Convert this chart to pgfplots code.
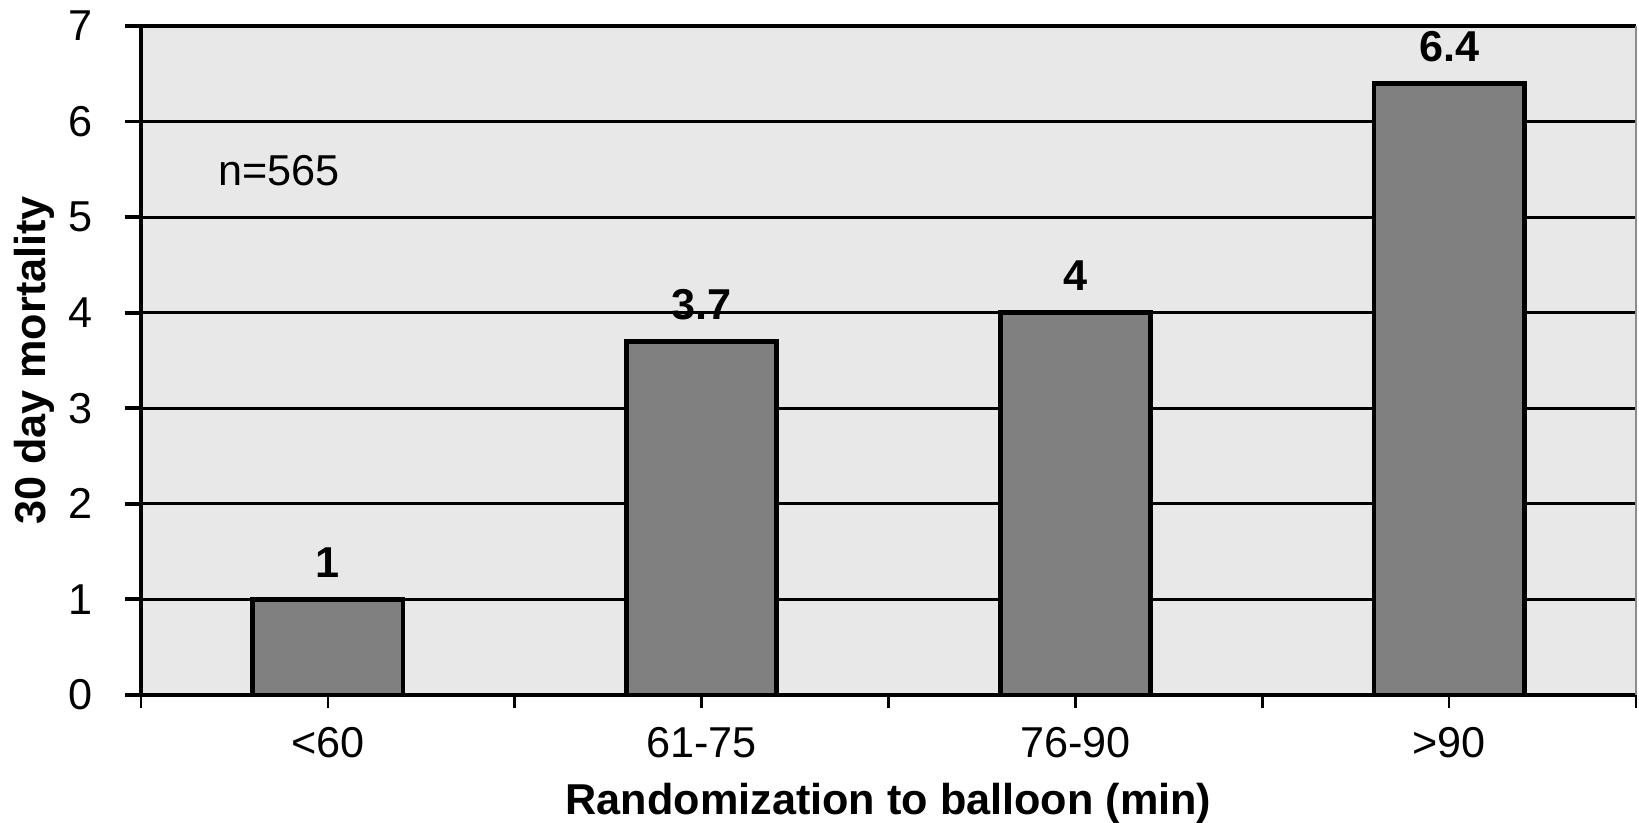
\documentclass[border=0pt]{standalone}
\usepackage{fontspec}
\setmainfont{Liberation Sans}
\usepackage{pgfplots}
\pgfplotsset{compat=1.18}
\definecolor{plotbg}{RGB}{232,232,232}
\definecolor{barfill}{RGB}{128,128,128}
\definecolor{bordergray}{RGB}{140,140,140}
\newcommand{\chartfont}{\fontsize{13.5}{16}\selectfont}
\begin{document}
\chartfont
\begin{tikzpicture}
\begin{axis}[
  at={(44.06pt,39.71pt)}, anchor=south west,
  width=467.19pt, height=209.06pt, scale only axis,
  xmin=-0.5, xmax=3.5, ymin=0, ymax=7,
  ybar, bar width=46.9pt,
  axis lines=left,
  axis line style={-, line width=1.2pt, black},
  axis background/.style={fill=plotbg},
  /pgf/number format/assume math mode=true,
  tick align=outside,
  xtick={-0.5,0.5,1.5,2.5,3.5},
  xticklabels={},
  x tick style={line width=0.8pt, black},
  xtick style={/pgfplots/major tick length=4pt},
  ytick={0,1,2,3,4,5,6},
  y tick style={line width=1.2pt, black, /pgfplots/major tick length=5pt},
  ymajorgrids,
  major grid style={black, line width=1pt},
  extra y ticks={7},
  extra y tick style={grid style={bordergray, line width=0.9pt}},
  extra x ticks={0,1,2,3},
  extra x tick labels={<60,61-75,76-90,>90},
  extra x tick style={major tick length=0pt, grid=none,
    xticklabel style={anchor=base, yshift=-19.4pt}},
  tick label style={font=\chartfont},
  yticklabel style={anchor=east, inner sep=0pt, xshift=-10.6pt},
  xlabel={\bfseries Randomization to balloon (min)},
  xlabel style={at={(axis description cs:0.5,-0.1794)}, anchor=base, font=\chartfont},
  ylabel={\bfseries 30 day mortality},
  ylabel style={at={(axis description cs:-0.0715,0.5)}, anchor=center, font=\chartfont},
  nodes near coords,
  nodes near coords style={font=\chartfont\bfseries, anchor=base, yshift=6.8pt},
  after end axis/.code={\draw[bordergray, line width=0.9pt] (rel axis cs:1,0) -- (rel axis cs:1,1);},
]
\addplot[fill=barfill, draw=black, line width=1.5pt] coordinates {(0,1) (1,3.7) (2,4) (3,6.4)};
\node[font=\chartfont] at (axis cs:-0.13,5.49) {n=565};
\end{axis}
\pgfresetboundingbox
\path (0,0) rectangle (512.19pt,256.88pt);
\end{tikzpicture}
\end{document}
